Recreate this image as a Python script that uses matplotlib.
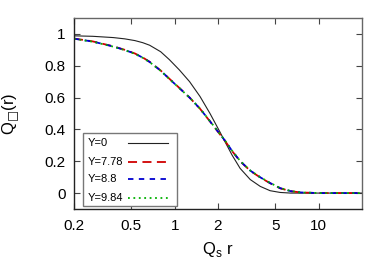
"""Dipole correlator Q(r) for several rapidities"""

import matplotlib
matplotlib.use("Agg")
import matplotlib.pyplot as plt
from matplotlib.patches import Rectangle
from matplotlib.ticker import FixedLocator, NullLocator

plt.rcParams["font.family"] = ["Liberation Sans", "DejaVu Sans"]
plt.rcParams["mathtext.fontset"] = "dejavusans"

# Qs r values
r = [0.2, 0.27, 0.375, 0.45, 0.53, 0.6, 0.67, 0.8, 0.92, 1.08, 1.27, 1.5, 1.76,
     2.06, 2.23, 2.5, 2.85, 3.35, 3.93, 4.6, 5.4, 6.4, 7.5, 10.0, 14.0, 20.0]

q_y0 = [0.988, 0.985, 0.977, 0.969, 0.958, 0.945, 0.929, 0.888, 0.838, 0.773,
        0.70, 0.607, 0.50, 0.385, 0.325, 0.24, 0.155, 0.085, 0.042, 0.015,
        0.004, 0.0, 0.0, 0.0, 0.0, 0.0]

q_y778 = [0.971, 0.953, 0.922, 0.90, 0.877, 0.852, 0.825, 0.77, 0.718, 0.66,
          0.60, 0.53, 0.45, 0.37, 0.33, 0.265, 0.20, 0.14, 0.098, 0.062,
          0.03, 0.012, 0.004, 0.0, 0.0, 0.0]

q_y88 = [0.970, 0.952, 0.921, 0.899, 0.876, 0.851, 0.824, 0.769, 0.717, 0.659,
         0.60, 0.53, 0.451, 0.371, 0.331, 0.266, 0.201, 0.141, 0.099, 0.063,
         0.031, 0.012, 0.004, 0.0, 0.0, 0.0]

q_y984 = [0.969, 0.951, 0.92, 0.898, 0.875, 0.85, 0.823, 0.768, 0.716, 0.659,
          0.60, 0.531, 0.452, 0.372, 0.332, 0.267, 0.202, 0.142, 0.1, 0.064,
          0.032, 0.013, 0.004, 0.0, 0.0, 0.0]

xticks = [0.2, 0.5, 1, 2, 5, 10]
xtick_labels = ["0.2", "0.5", "1", "2", "5", "10"]
yticks = [0, 0.2, 0.4, 0.6, 0.8, 1]
ytick_labels = ["0", "0.2", "0.4", "0.6", "0.8", "1"]
labels = ["Y=0", "Y=7.78", "Y=8.8", "Y=9.84"]

fig = plt.figure(figsize=(3.9, 2.73), dpi=100)
ax = fig.add_axes([74 / 390, 64 / 273, 288 / 390, 191 / 273])

styles = [
    dict(color="#222222", lw=0.8),
    dict(color="#d00000", lw=1.3, dashes=(5, 3)),
    dict(color="#0000d0", lw=1.3, dashes=(3, 3)),
    dict(color="#00b000", lw=1.3, dashes=(1, 2)),
]
for q, st in zip([q_y0, q_y778, q_y88, q_y984], styles):
    ax.plot(r, q, **st)

ax.set_xscale("log")
ax.set_xlim(0.2, 20)
ax.set_ylim(-0.1, 1.1)

ax.xaxis.set_major_locator(FixedLocator(xticks))
ax.xaxis.set_minor_locator(NullLocator())
ax.set_xticklabels(xtick_labels)
ax.set_yticks(yticks)
ax.set_yticklabels(ytick_labels)

ax.tick_params(direction="in", top=True, right=True, length=4, width=0.8,
               color="#444444", labelsize=11)
ax.tick_params(axis="x", pad=7)
ax.tick_params(axis="y", pad=6)
for side in ax.spines.values():
    side.set_color("#666666")
    side.set_linewidth(1.0)
ax.spines["left"].set_color("#222222")
ax.spines["bottom"].set_color("#222222")

ax.set_xlabel(r"Q$_\mathregular{s}$ r", fontsize=12, labelpad=5)
ax.set_ylabel("Q$_{□}$(r)", fontsize=12, labelpad=16)

# hand-built legend box: text on the left, line sample on the right
ax.add_patch(Rectangle((0.031, 0.016), 0.327, 0.382, transform=ax.transAxes,
                       facecolor="white", edgecolor="#777777", lw=1.0, zorder=5))
rows = [0.344, 0.246, 0.159, 0.056]
for lab, yy, st in zip(labels, rows, styles):
    ax.text(0.049, yy, lab, transform=ax.transAxes, fontsize=8,
            va="center", ha="left", zorder=6)
    ax.plot([0.1875, 0.326], [yy, yy], transform=ax.transAxes, zorder=6, **st)

plt.savefig("out.png", dpi=100)
